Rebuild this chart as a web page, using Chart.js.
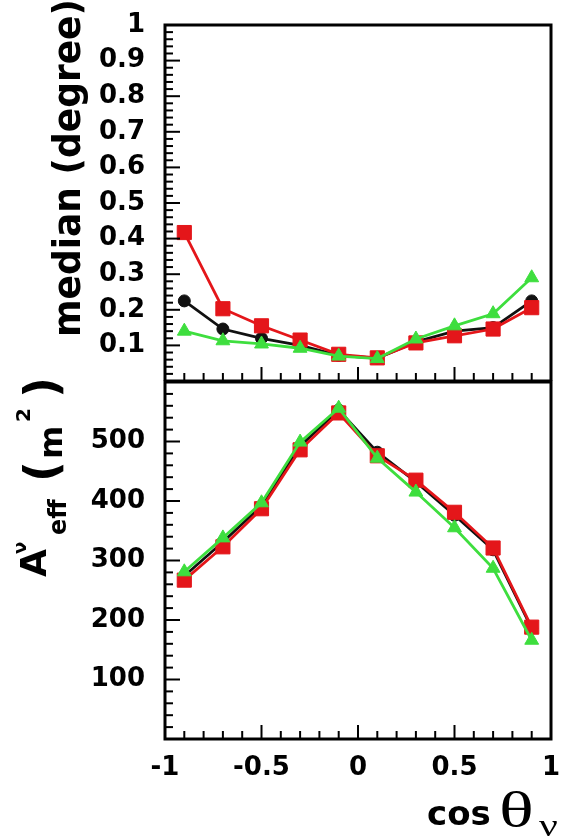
<!DOCTYPE html>
<html>
<head>
<meta charset="utf-8">
<script src="https://cdn.jsdelivr.net/npm/chart.js@4/dist/chart.umd.min.js"></script>
<style>
  body { margin: 0; background: #fff; }
  #wrap { position: relative; width: 579px; height: 839px; }
  canvas { position: absolute; left: 0; }
  #top { top: 0; }
  #bottom { top: 372px; }
</style>
</head>
<body>
<div id="wrap">
  <canvas id="top" width="579" height="381"></canvas>
  <canvas id="bottom" width="579" height="467"></canvas>
</div>
<script>
// cos(theta_nu) bin centres
const cosTheta = [-0.9, -0.7, -0.5, -0.3, -0.1, 0.1, 0.3, 0.5, 0.7, 0.9];

// upper panel: median angle (degree)
const medianBlack = [0.225, 0.146, 0.12, 0.10, 0.072, 0.064, 0.11, 0.14, 0.15, 0.225];
const medianRed   = [0.417, 0.203, 0.155, 0.115, 0.075, 0.065, 0.107, 0.127, 0.146, 0.206];
const medianGreen = [0.14, 0.113, 0.104, 0.092, 0.07, 0.063, 0.118, 0.155, 0.189, 0.29];

// lower panel: effective area (m^2)
const areaBlack = [274, 331, 392, 492, 553, 482, 432, 376, 318, 186];
const areaRed   = [267, 323, 387, 486, 548, 476, 435, 381, 321, 188];
const areaGreen = [281, 338, 397, 499, 556, 472, 415, 355, 287, 166];

// tick labels
const xTicks = [-1, -0.5, 0, 0.5, 1];
const medianTicks = [0.1, 0.2, 0.3, 0.4, 0.5, 0.6, 0.7, 0.8, 0.9, 1];
const areaTicks = [100, 200, 300, 400, 500];

const RED = 'rgb(228,22,26)';
const GREEN = 'rgb(62,222,62)';
const BLACK = '#111';
const tickFont = { family: 'DejaVu Sans', weight: 'bold', size: 26 };

function series(label, ys, color, style, radius) {
  return {
    label: label,
    data: cosTheta.map((x, i) => ({ x: x, y: ys[i] })),
    showLine: true,
    borderColor: color,
    backgroundColor: color,
    borderWidth: 2.8,
    pointStyle: style,
    pointRadius: radius,
    pointBorderWidth: 1
  };
}

// frame + inward ticks, like the ROOT style of the original
const framePlugin = {
  id: 'frame',
  afterDraw(chart, args, opts) {
    const ctx = chart.ctx, a = chart.chartArea;
    const x = chart.scales.x, y = chart.scales.y;
    ctx.save();
    ctx.strokeStyle = '#000';
    ctx.lineWidth = 2;
    // y ticks on the left
    const ny = Math.round((y.max - y.min) / opts.yMinor);
    for (let i = 0; i <= ny; i++) {
      const py = y.getPixelForValue(y.min + i * opts.yMinor);
      const len = (i % opts.yPer === 0) ? 15 : 8;
      ctx.beginPath(); ctx.moveTo(a.left, py); ctx.lineTo(a.left + len, py); ctx.stroke();
    }
    // x ticks on the bottom
    const nx = Math.round((x.max - x.min) / 0.1);
    for (let i = 0; i <= nx; i++) {
      const px = x.getPixelForValue(x.min + i * 0.1);
      const len = (i % 5 === 0) ? 14 : 8;
      ctx.beginPath(); ctx.moveTo(px, a.bottom); ctx.lineTo(px, a.bottom - len); ctx.stroke();
    }
    ctx.lineWidth = 3;
    ctx.strokeRect(a.left, a.top, a.right - a.left, a.bottom - a.top);
    ctx.restore();
  }
};

// rotated text helper: text runs upward starting at screen y, baseline at screen x
function upText(ctx, txt, font, bx, startY, stretch) {
  ctx.save();
  ctx.translate(bx, startY);
  ctx.scale(stretch || 1, 1);
  ctx.rotate(-Math.PI / 2);
  ctx.font = font;
  ctx.textBaseline = 'alphabetic';
  ctx.textAlign = 'left';
  ctx.fillStyle = '#000';
  ctx.fillText(txt, 0, 0);
  ctx.restore();
}

function flatText(ctx, txt, font, left, base, stretch) {
  ctx.save();
  ctx.translate(left, base);
  ctx.scale(stretch || 1, 1);
  ctx.font = font;
  ctx.textBaseline = 'alphabetic';
  ctx.fillStyle = '#000';
  ctx.fillText(txt, 0, 0);
  ctx.restore();
}

const topTitle = {
  id: 'topTitle',
  afterDraw(chart) {
    const ctx = chart.ctx;
    const font = 'bold 36px "DejaVu Sans"';
    ctx.save();
    ctx.font = font;
    const w = ctx.measureText('median (degree)').width;
    ctx.restore();
    upText(ctx, 'median (degree)', font, 80, 168 + w / 2, 1.05);
  }
};

const bottomTitles = {
  id: 'bottomTitles',
  afterDraw(chart) {
    const ctx = chart.ctx;
    const off = 372; // canvas top offset on the page
    upText(ctx, 'A', 'bold 36px "DejaVu Sans"', 46, 577 - off);
    upText(ctx, 'ν', 'bold 18px "DejaVu Sans"', 26, 554 - off);
    upText(ctx, 'eff', 'bold 24px "DejaVu Sans"', 66, 535 - off);
    upText(ctx, '(', 'bold 46px "DejaVu Sans"', 57, 482 - off);
    upText(ctx, 'm', 'bold 32px "DejaVu Sans"', 62, 459 - off);
    upText(ctx, '2', 'bold 20px "DejaVu Sans"', 30, 422 - off);
    upText(ctx, ')', 'bold 46px "DejaVu Sans"', 57, 398 - off);

    flatText(ctx, 'cos', 'bold 34px "DejaVu Sans"', 427, 825 - off);
    flatText(ctx, 'θ', '50px "Liberation Serif"', 499, 827 - off, 1.45);
    flatText(ctx, 'ν', '32px "Liberation Serif"', 539, 836 - off, 1.3);
  }
};

function noPad(sc) {
  sc.paddingTop = 0; sc.paddingBottom = 0; sc.paddingLeft = 0; sc.paddingRight = 0;
}

function xScale(show) {
  return {
    type: 'linear', min: -1, max: 1, display: show,
    grid: { display: false, drawTicks: false },
    border: { display: false },
    afterBuildTicks: sc => { sc.ticks = xTicks.map(v => ({ value: v })); },
    afterFit: sc => { noPad(sc); if (show) sc.height = 100; },
    ticks: { font: tickFont, color: '#000', padding: 14, maxRotation: 0, autoSkip: false,
             callback: v => String(v) }
  };
}

function yScale(min, max, tickVals) {
  return {
    type: 'linear', min: min, max: max,
    grid: { display: false, drawTicks: false },
    border: { display: false },
    afterBuildTicks: s => { s.ticks = tickVals.map(v => ({ value: v })); },
    afterFit: s => { noPad(s); s.width = 165; },
    ticks: { font: tickFont, color: '#000', padding: 20, autoSkip: false,
             callback: v => String(v) }
  };
}

const common = {
  responsive: false,
  animation: false,
  plugins: { legend: { display: false }, tooltip: { enabled: false } }
};

new Chart(document.getElementById('top'), {
  type: 'scatter',
  data: {
    datasets: [
      series('green', medianGreen, GREEN, 'triangle', 8),
      series('red', medianRed, RED, 'rect', 10),
      series('black', medianBlack, BLACK, 'circle', 6)
    ]
  },
  options: Object.assign({}, common, {
    layout: { autoPadding: false, padding: { left: 0, right: 28, top: 25, bottom: 0 } },
    scales: { x: xScale(false), y: yScale(0, 1, medianTicks) },
    plugins: Object.assign({}, common.plugins, { frame: { yMinor: 0.02, yPer: 5 } })
  }),
  plugins: [framePlugin, topTitle]
});

new Chart(document.getElementById('bottom'), {
  type: 'scatter',
  data: {
    datasets: [
      series('green', areaGreen, GREEN, 'triangle', 8),
      series('red', areaRed, RED, 'rect', 10),
      series('black', areaBlack, BLACK, 'circle', 6)
    ]
  },
  options: Object.assign({}, common, {
    layout: { autoPadding: false, padding: { left: 0, right: 28, top: 10, bottom: 0 } },
    scales: { x: xScale(true), y: yScale(0, 600, areaTicks) },
    plugins: Object.assign({}, common.plugins, { frame: { yMinor: 20, yPer: 5 } })
  }),
  plugins: [framePlugin, bottomTitles]
});
</script>
</body>
</html>
